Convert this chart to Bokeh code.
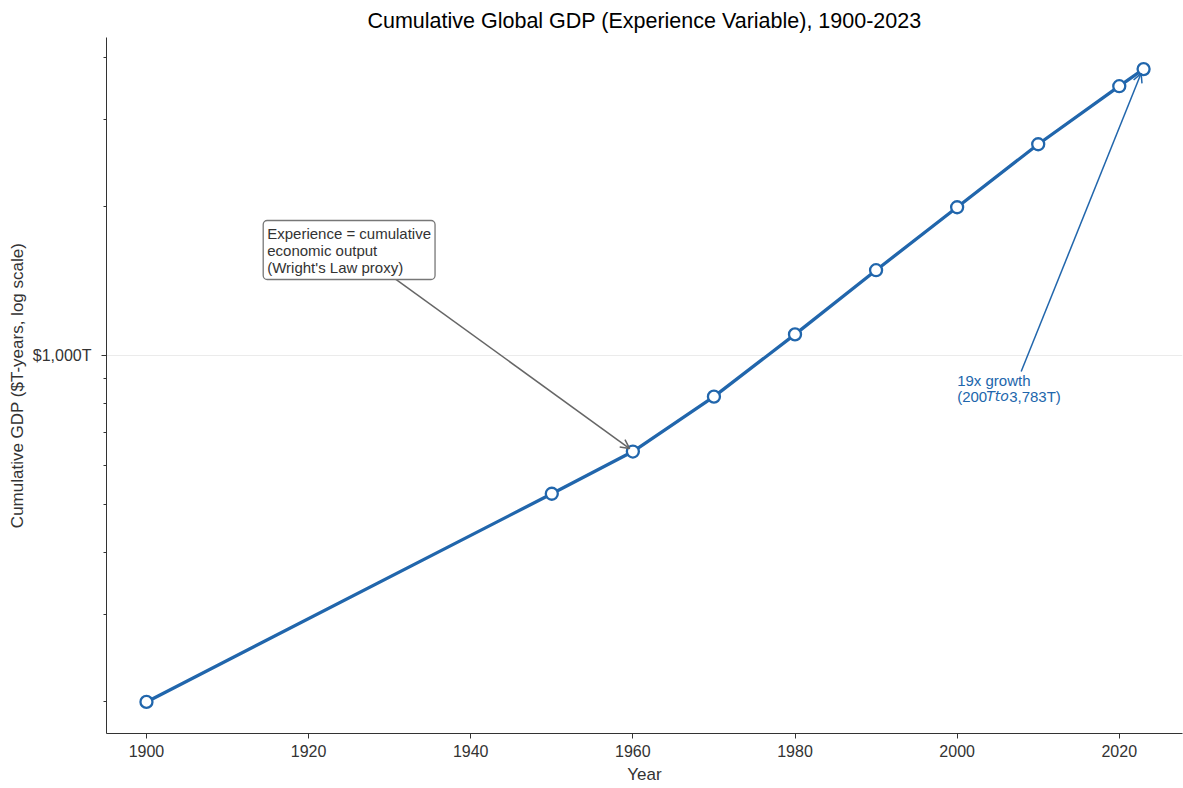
from bokeh.plotting import figure
from bokeh.models import (Range1d, FixedTicker, Label, Arrow, OpenHead)
from bokeh.embed import file_html
from bokeh.resources import INLINE

# Cumulative world GDP ($T-years) at selected years
years = [1900, 1950, 1960, 1970, 1980, 1990, 2000, 2010, 2020, 2023]
cum_gdp = [200, 526, 640, 826, 1103, 1486, 1991, 2668, 3494, 3783]

x_ticks = [1900, 1920, 1940, 1960, 1980, 2000, 2020]
y_major = [1000]
y_minor = [200, 300, 400, 500, 600, 700, 800, 900, 2000, 3000, 4000]
y_labels = {1000: "$1,000T"}

FONT = "Liberation Sans"
BLUE = "#2166ac"
AXIS = "#333333"

p = figure(width=1183, height=788, y_axis_type="log",
           x_range=Range1d(1895.07, 2027.8), y_range=Range1d(172.7, 4381),
           output_backend="svg", toolbar_location=None,
           min_border_left=106, min_border_right=1,
           min_border_top=37, min_border_bottom=55)

p.title.text = "Cumulative Global GDP (Experience Variable), 1900-2023"
p.title.align = "center"
p.title.text_font = FONT
p.title.text_font_size = "21.5px"
p.title.text_font_style = "normal"
p.title.text_color = "#000000"
p.outline_line_color = None

# axes
p.xaxis.ticker = FixedTicker(ticks=x_ticks)
p.yaxis.ticker = FixedTicker(ticks=y_major, minor_ticks=y_minor)
p.yaxis.major_label_overrides = y_labels
p.xaxis.axis_label = "Year"
p.yaxis.axis_label = "Cumulative GDP ($T-years, log scale)"
for ax in (p.xaxis, p.yaxis):
    ax.axis_line_color = AXIS
    ax.major_tick_line_color = AXIS
    ax.minor_tick_line_color = AXIS
    ax.major_tick_out = 5
    ax.major_tick_in = 0
    ax.minor_tick_out = 3
    ax.minor_tick_in = 0
    ax.major_label_text_font = FONT
    ax.major_label_text_font_size = "16px"
    ax.major_label_text_color = AXIS
    ax.axis_label_text_font = FONT
    ax.axis_label_text_font_size = "17px"
    ax.axis_label_text_font_style = "normal"
    ax.axis_label_text_color = AXIS
p.xaxis.major_label_standoff = 6
p.xaxis.axis_label_standoff = 5
p.yaxis.major_label_standoff = 10
p.yaxis.axis_label_standoff = 3
p.xaxis.minor_tick_line_color = None

p.xgrid.grid_line_color = None
p.ygrid.grid_line_color = "#e6e6e6"
p.ygrid.grid_line_width = 0.8

# annotation arrows (drawn beneath the series)
p.add_layout(Arrow(end=OpenHead(size=9, line_color="#666666", line_width=1.5),
                   x_start=1930.3, y_start=1443, x_end=1959.6, y_end=649,
                   line_color="#666666", line_width=1.5))
p.add_layout(Arrow(end=OpenHead(size=9, line_color=BLUE, line_width=1.5),
                   x_start=2007.9, y_start=928, x_end=2022.7, y_end=3709,
                   line_color=BLUE, line_width=1.5))

# series
p.line(years, cum_gdp, line_color=BLUE, line_width=3.3)
p.scatter(years, cum_gdp, size=12, fill_color="white", line_color=BLUE, line_width=2.3)

# explanatory box
p.add_layout(Label(x=1914.4, y=1872, anchor="top_left",
                   text="Experience = cumulative\neconomic output\n(Wright's Law proxy)",
                   text_font=FONT, text_font_size="15px", text_color=AXIS,
                   text_line_height=1.0,
                   background_fill_color="white", border_line_color="#777777",
                   border_line_width=1.3, padding=4, border_radius=4))

# growth note
note_x, note_y = 2000.0, 928
p.add_layout(Label(x=note_x, y=note_y, anchor="top_left", text="19x growth",
                   text_font=FONT, text_font_size="15px", text_color=BLUE))
line2 = [("(200", FONT, "normal", 0), ("Tto", "DejaVu Sans", "italic", 29),
         ("3,783T)", FONT, "normal", 52)]
for txt, fnt, style, dx in line2:
    p.add_layout(Label(x=note_x, y=note_y, anchor="top_left", text=txt,
                       x_offset=dx, y_offset=-16.5,
                       text_font=fnt, text_font_style=style,
                       text_font_size="15px" if fnt == FONT else "14px",
                       text_color=BLUE))

open("out.html", "w").write(file_html(p, INLINE))
